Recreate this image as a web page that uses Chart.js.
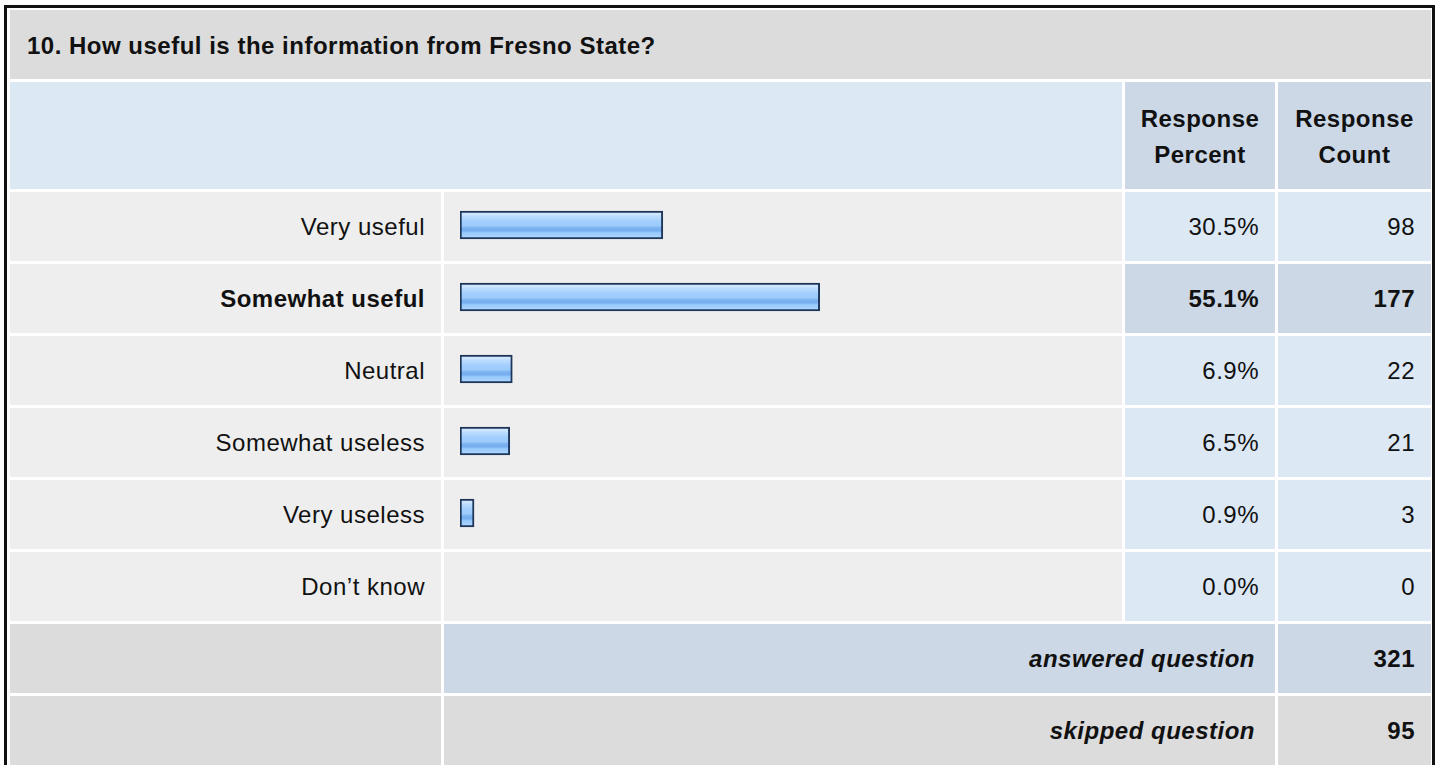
<!DOCTYPE html>
<html>
<head>
<meta charset="utf-8">
<script src="https://cdn.jsdelivr.net/npm/chart.js@4.4.0/dist/chart.umd.min.js"></script>
<style>
  body { margin: 0; background: #fff; font-family: "Liberation Sans", Arial, sans-serif; font-size: 24px; letter-spacing: 0.5px; color: #111; }
  #frame {
    position: absolute; left: 4px; top: 5px; width: 1421px;
    border: 3px solid #111; border-bottom: none;
    padding: 2px 1px 0 3px; background: #fff;
    display: grid;
    grid-template-columns: 431px 678px 150px 153px;
    grid-template-rows: 69px 107px repeat(8, 69px);
    gap: 3px;
  }
  .c { display: flex; align-items: center; box-sizing: border-box; }
  .title { grid-column: 1 / 5; background: #dcdcdc; font-weight: bold; padding-left: 17px; padding-top: 3px; }
  .hblank { grid-column: 1 / 3; background: #dde8f5; }
  .hcol { background: #ccd8e6; font-weight: bold; justify-content: center; text-align: center; line-height: 36px; padding-top: 3px; }
  .lab { background: #eee; justify-content: flex-end; padding-right: 16px; }
  .bar { background: #eee; }
  .num { background: #dde8f5; justify-content: flex-end; padding-right: 16px; }
  .hi { font-weight: bold; }
  .num.hi { background: #ccd8e6; }
  .grey { background: #dcdcdc; }
  .tot { grid-column: 2 / 4; justify-content: flex-end; padding-right: 20px; font-weight: bold; font-style: italic; }
  .blue { background: #ccd8e6; }
  .cnt { justify-content: flex-end; padding-right: 16px; font-weight: bold; }
  #chartBox { position: absolute; left: 444px; top: 189px; width: 678px; height: 432px; }
</style>
</head>
<body>
<div id="frame"></div>
<div id="chartBox"><canvas id="bars" width="678" height="432"></canvas></div>
<script>
const question = "10. How useful is the information from Fresno State?";
const categories = ["Very useful", "Somewhat useful", "Neutral", "Somewhat useless", "Very useless", "Don\u2019t know"];
const percents = [30.5, 55.1, 6.9, 6.5, 0.9, 0.0];
const counts = [98, 177, 22, 21, 3, 0];
const answered = 321;
const skipped = 95;

// таблица вокруг графика
const frame = document.getElementById("frame");
const topIdx = percents.indexOf(Math.max(...percents));
let html = `<div class="c title">${question}</div>
  <div class="c hblank"></div>
  <div class="c hcol">Response<br>Percent</div>
  <div class="c hcol">Response<br>Count</div>`;
categories.forEach((cat, i) => {
  const hi = i === topIdx ? " hi" : "";
  html += `<div class="c lab${hi}">${cat}</div>
    <div class="c bar"></div>
    <div class="c num${hi}">${percents[i].toFixed(1)}%</div>
    <div class="c num${hi}">${counts[i]}</div>`;
});
html += `<div class="c grey"></div>
  <div class="c tot blue">answered question</div>
  <div class="c cnt blue">${answered}</div>
  <div class="c grey"></div>
  <div class="c tot grey">skipped question</div>
  <div class="c cnt grey">${skipped}</div>`;
frame.innerHTML = html;

// полосатая заливка баров (повторяется каждые 72px — шаг строки)
function barFill(ctx) {
  const tile = document.createElement("canvas");
  tile.width = 4;
  tile.height = 72;
  const t = tile.getContext("2d");
  const g = t.createLinearGradient(0, 24, 0, 48);
  g.addColorStop(0, "#d4eaff");
  g.addColorStop(0.15, "#bcdcff");
  g.addColorStop(0.35, "#a3cffd");
  g.addColorStop(0.55, "#9bcafa");
  g.addColorStop(0.6, "#7fb4f1");
  g.addColorStop(0.75, "#76adee");
  g.addColorStop(0.8, "#93c6fb");
  g.addColorStop(1, "#a9d5ff");
  t.fillStyle = g;
  t.fillRect(0, 0, 4, 72);
  return ctx.createPattern(tile, "repeat");
}

const canvas = document.getElementById("bars");
new Chart(canvas, {
  type: "bar",
  data: {
    labels: categories,
    datasets: [{
      data: percents.map(p => p || null),
      base: -1.3,
      backgroundColor: barFill(canvas.getContext("2d")),
      borderColor: "#1e365a",
      borderWidth: 2,
      borderSkipped: false,
      barThickness: 28
    }]
  },
  options: {
    indexAxis: "y",
    responsive: false,
    animation: false,
    layout: { padding: { left: 16, right: 7, top: 0, bottom: 0 } },
    scales: {
      x: { display: false, min: -1.3, max: 101.4 },
      y: { display: false }
    },
    plugins: { legend: { display: false }, tooltip: { enabled: false } }
  }
});
</script>
</body>
</html>
